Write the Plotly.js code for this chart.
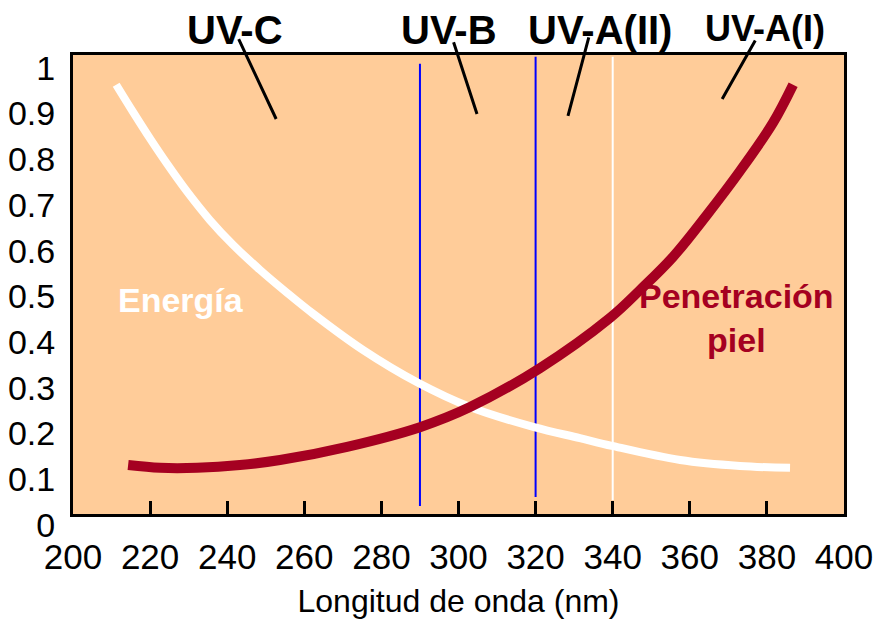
<!DOCTYPE html>
<html>
<head>
<meta charset="utf-8">
<script src="https://cdn.plot.ly/plotly-3.0.1.min.js"></script>
<style>html,body{margin:0;padding:0;background:#fff;}#chart{width:878px;height:619px;}</style>
</head>
<body>
<div id="chart"></div>
<script>
// Energy curve (white)
const energiaX = [211.2, 215.6, 220.0, 224.4, 229.6, 235.5, 241.5, 248.5, 255.5, 262.3, 275.2, 289.5, 303.0, 319.6, 331.5, 339.8, 357.5, 373.0, 386.0];
const energiaY = [0.939, 0.879, 0.821, 0.766, 0.705, 0.643, 0.589, 0.534, 0.484, 0.438, 0.359, 0.287, 0.234, 0.190, 0.166, 0.149, 0.118, 0.105, 0.101];
// Skin penetration curve (dark red)
const pielX = [214.3, 222.6, 232.2, 243.3, 253.7, 271.1, 290.0, 303.0, 321.1, 339.3, 347.1, 355.6, 364.5, 373.0, 381.6, 386.8];
const pielY = [0.107, 0.101, 0.101, 0.107, 0.118, 0.147, 0.190, 0.234, 0.319, 0.429, 0.490, 0.562, 0.655, 0.750, 0.856, 0.939];
// Band boundaries
const boundaryX = [290, 320, 340];
const boundaryTop = [0.985, 1.0, 1.0];
const boundaryBottom = [0.0175, 0.037, 0.03];
const boundaryColors = ['#0000ff', '#0000ff', '#ffffff'];
// Band labels and their pointer lines
const bandNames = ['UV-C', 'UV-B', 'UV-A(II)', 'UV-A(I)'];
const bandLabelX = [242.0, 297.6, 336.7, 379.6];
const bandLabelY = [1.054, 1.054, 1.054, 1.057];
const bandLabelSize = [40, 40, 40, 36];
const pointerStartX = [242.8, 298.6, 333.9, 377.2];
const pointerStartY = [1.042, 1.035, 1.046, 1.039];
const pointerEndX = [252.7, 304.8, 328.4, 368.4];
const pointerEndY = [0.864, 0.875, 0.871, 0.908];
// Axis ticks
const yTickVals = [0, 0.1, 0.2, 0.3, 0.4, 0.5, 0.6, 0.7, 0.8, 0.9, 1];
const yTickText = ['0', '0.1', '0.2', '0.3', '0.4', '0.5', '0.6', '0.7', '0.8', '0.9', '1'];
const xTickVals = [200, 220, 240, 260, 280, 300, 320, 340, 360, 380, 400];

const RED = '#a50021';
const FONT = 'Liberation Sans, Arial, sans-serif';

const traces = [];
boundaryX.forEach((bx, i) => {
  traces.push({
    x: [bx, bx], y: [boundaryBottom[i], boundaryTop[i]],
    mode: 'lines', line: {color: boundaryColors[i], width: 2},
    hoverinfo: 'skip', showlegend: false
  });
});
traces.push({x: energiaX, y: energiaY, mode: 'lines', line: {color: '#ffffff', width: 8, shape: 'spline'}, showlegend: false});
traces.push({x: pielX, y: pielY, mode: 'lines', line: {color: RED, width: 10, shape: 'spline'}, showlegend: false});

const annotations = [];
bandNames.forEach((name, i) => {
  annotations.push({
    x: bandLabelX[i], y: bandLabelY[i], xref: 'x', yref: 'paper', xanchor: 'center', yanchor: 'middle',
    text: '<b>' + name + '</b>', showarrow: false,
    font: {family: FONT, size: bandLabelSize[i], color: '#000'}
  });
});
bandNames.forEach((name, i) => {
  annotations.push({
    x: pointerEndX[i], y: pointerEndY[i], xref: 'x', yref: 'y',
    ax: pointerStartX[i], ay: pointerStartY[i], axref: 'x', ayref: 'y',
    text: '', showarrow: true, arrowhead: 0, arrowwidth: 3, arrowcolor: '#000',
    standoff: 0, startstandoff: 0
  });
});
annotations.push({x: 228.0, y: 0.468, xref: 'x', yref: 'y', text: '<b>Energía</b>', showarrow: false,
  font: {family: FONT, size: 34, color: '#ffffff'}});
annotations.push({x: 372.0, y: 0.429, xref: 'x', yref: 'y', text: '<b>Penetración<br>piel</b>', showarrow: false,
  font: {family: FONT, size: 34, color: RED}});

const layout = {
  width: 878, height: 619,
  margin: {l: 73, r: 34, t: 55, b: 105},
  paper_bgcolor: '#ffffff', plot_bgcolor: '#ffcc99',
  font: {family: FONT, color: '#000'},
  showlegend: false,
  xaxis: {
    range: [200, 400], tickvals: xTickVals, ticks: 'inside', ticklen: 13, tickwidth: 3, tickcolor: '#000',
    showgrid: false, zeroline: false, showline: true, linewidth: 3, linecolor: '#000', mirror: true,
    tickfont: {family: FONT, size: 35, color: '#000'}, ticklabelstandoff: 10,
    title: {text: 'Longitud de onda (nm)', font: {family: FONT, size: 32, color: '#000'}, standoff: 15}
  },
  yaxis: {
    range: [0, 1.004], tickvals: yTickVals, ticktext: yTickText, ticks: '',
    showgrid: false, zeroline: false, showline: true, linewidth: 3, linecolor: '#000', mirror: true,
    tickfont: {family: FONT, size: 34, color: '#000'}, ticklabelshift: 11, ticklabelstandoff: 8
  },
  annotations: annotations
};

Plotly.newPlot('chart', traces, layout, {displayModeBar: false, staticPlot: true});
</script>
</body>
</html>
